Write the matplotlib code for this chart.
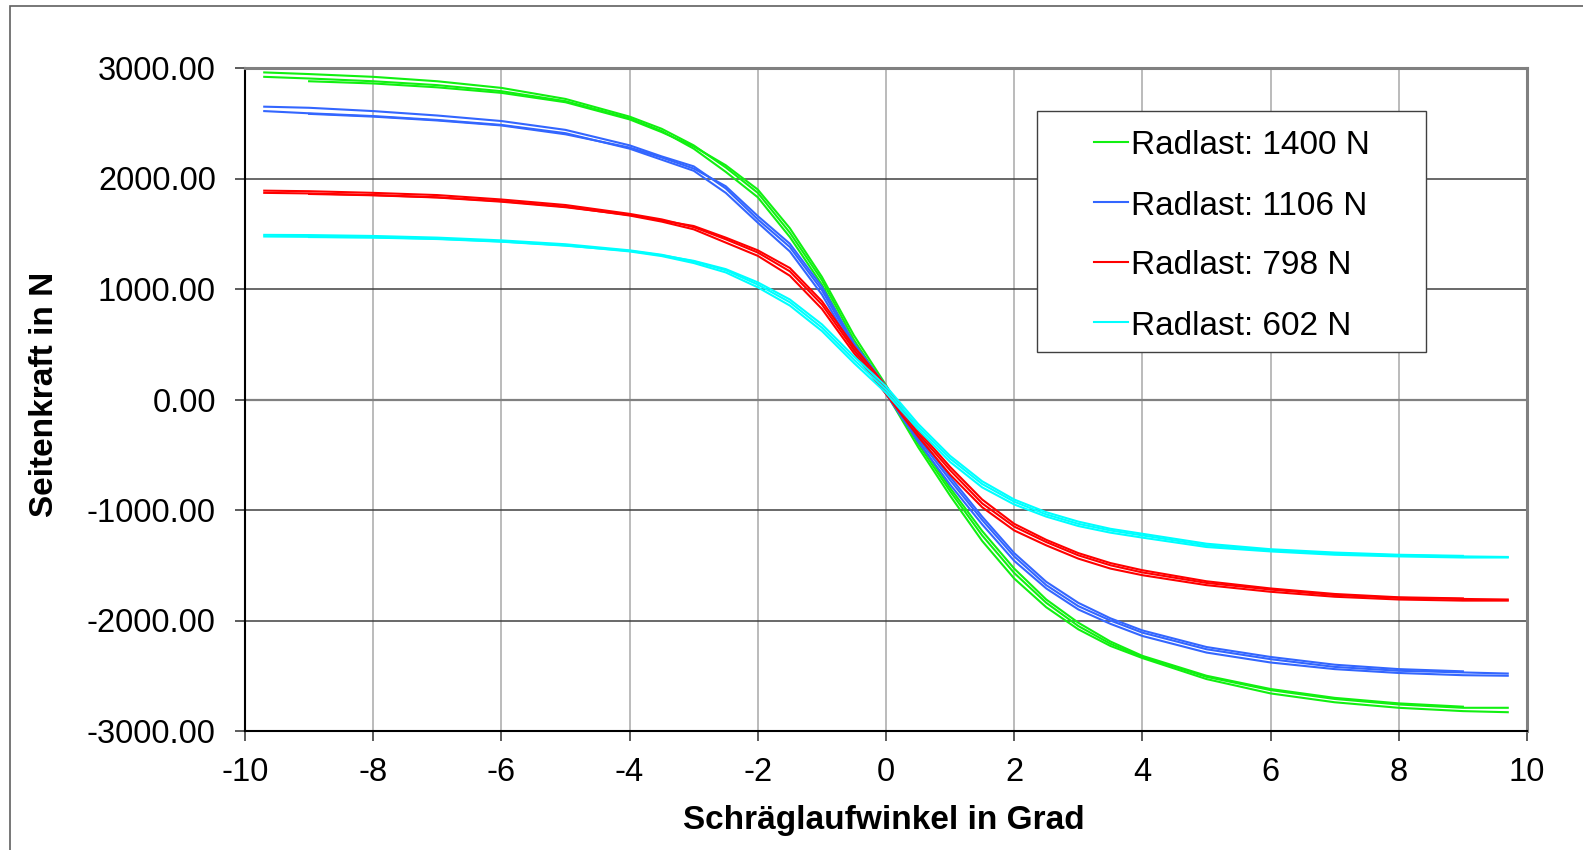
import matplotlib.pyplot as plt
from matplotlib.lines import Line2D
from matplotlib.patches import Rectangle

plt.rcParams["font.family"] = ["Liberation Sans", "DejaVu Sans"]
plt.rcParams["axes.unicode_minus"] = False

# slip angle grid (deg) shared by all traces
angle = [-9.7, -9, -8, -7, -6, -5, -4, -3.5, -3, -2.5, -2, -1.5, -1, -0.5, 0,
         0.5, 1, 1.5, 2, 2.5, 3, 3.5, 4, 5, 6, 7, 8, 9, 9.7]

labels = ["Radlast: 1400 N", "Radlast: 1106 N", "Radlast: 798 N", "Radlast: 602 N"]
colors = ["#11f011", "#3366ff", "#ff0000", "#00ffff"]

# side force (N), three measurement passes per wheel load
f1400_a = [2960, 2945, 2920, 2880, 2820, 2720, 2560, 2450, 2300, 2100, 1870, 1510, 1080, 540, 100,
           -400, -830, -1230, -1570, -1840, -2050, -2210, -2330, -2510, -2630, -2710, -2760, -2790, -2790]
f1400_b = [2920, 2905, 2880, 2845, 2790, 2700, 2545, 2430, 2270, 2060, 1830, 1470, 1040, 500, 60,
           -430, -870, -1280, -1620, -1880, -2080, -2230, -2340, -2530, -2660, -2740, -2790, -2820, -2830]
f1400_c = [2890, 2880, 2860, 2825, 2775, 2690, 2535, 2420, 2290, 2120, 1900, 1550, 1110, 580, 130,
           -370, -800, -1190, -1530, -1810, -2020, -2190, -2320, -2500, -2620, -2700, -2750, -2780, -2780]

f1106_a = [2650, 2640, 2610, 2570, 2520, 2440, 2300, 2200, 2110, 1910, 1630, 1380, 990, 480, 90,
           -350, -730, -1090, -1420, -1680, -1870, -2000, -2110, -2260, -2350, -2420, -2455, -2470, -2480]
f1106_b = [2610, 2590, 2565, 2530, 2485, 2410, 2270, 2170, 2070, 1870, 1600, 1340, 950, 450, 50,
           -380, -770, -1130, -1460, -1710, -1900, -2030, -2140, -2290, -2380, -2440, -2475, -2495, -2500]
f1106_c = [2590, 2585, 2560, 2525, 2480, 2400, 2280, 2190, 2090, 1930, 1660, 1410, 1020, 510, 120,
           -320, -700, -1060, -1390, -1650, -1840, -1980, -2090, -2240, -2330, -2400, -2440, -2460, -2465]

f798_a = [1890, 1885, 1870, 1850, 1810, 1760, 1680, 1630, 1560, 1450, 1330, 1160, 860, 450, 90,
          -305, -640, -940, -1150, -1290, -1410, -1500, -1565, -1660, -1720, -1770, -1795, -1805, -1810]
f798_b = [1870, 1865, 1850, 1830, 1795, 1745, 1665, 1610, 1540, 1420, 1300, 1120, 820, 420, 50,
          -335, -680, -975, -1185, -1320, -1440, -1530, -1590, -1680, -1740, -1785, -1810, -1820, -1820]
f798_c = [1860, 1860, 1848, 1828, 1790, 1740, 1670, 1620, 1570, 1465, 1350, 1190, 890, 480, 120,
          -280, -610, -905, -1125, -1270, -1390, -1480, -1545, -1645, -1710, -1760, -1790, -1800, -1805]

f602_a = [1490, 1488, 1480, 1465, 1440, 1405, 1350, 1310, 1250, 1170, 1040, 880, 650, 360, 90,
          -245, -535, -765, -925, -1040, -1125, -1185, -1230, -1320, -1365, -1395, -1410, -1420, -1425]
f602_b = [1475, 1472, 1468, 1455, 1430, 1395, 1340, 1298, 1235, 1150, 1015, 850, 620, 330, 60,
          -270, -565, -795, -950, -1060, -1145, -1205, -1250, -1335, -1375, -1405, -1420, -1430, -1430]
f602_c = [1470, 1470, 1465, 1452, 1428, 1392, 1345, 1305, 1255, 1180, 1060, 905, 680, 390, 120,
          -220, -510, -740, -905, -1020, -1105, -1170, -1215, -1305, -1355, -1385, -1405, -1415, -1420]

series = [
    (f1400_a, f1400_b, f1400_c),
    (f1106_a, f1106_b, f1106_c),
    (f798_a, f798_b, f798_c),
    (f602_a, f602_b, f602_c),
]

x_ticks = list(range(-10, 11, 2))
y_ticks = list(range(-3000, 3001, 1000))

W, H = 1583, 850
fig = plt.figure(figsize=(15.83, 8.5), dpi=100)
fig.patches.append(Rectangle((10 / W, -0.1), 1.2, 1.1 - 6 / H,
                             transform=fig.transFigure, fill=False,
                             edgecolor="#606060", linewidth=1.2))
ax = fig.add_axes([245 / W, 1 - 731 / H, (1527 - 245) / W, (731 - 68) / H])

for (pa, pb, pc), col in zip(series, colors):
    ax.plot(angle, pa, color=col, linewidth=1.5)
    ax.plot(angle, pb, color=col, linewidth=1.5)
    ax.plot(angle[1:-1], pc[1:-1], color=col, linewidth=1.5)

ax.set_xlim(-10, 10)
ax.set_ylim(-3000, 3000)
ax.set_xticks(x_ticks)
ax.set_yticks(y_ticks)
ax.set_yticklabels([f"{v:.2f}" for v in y_ticks])
ax.tick_params(axis="both", direction="out", length=7, width=1.2, color="#404040",
               labelsize=23.5)
ax.tick_params(axis="y", pad=14)
ax.tick_params(axis="x", pad=12)

ax.xaxis.grid(True, color="#a8a8a8", linewidth=1.1)
ax.yaxis.grid(True, color="#404040", linewidth=1.1)
ax.set_axisbelow(True)
ax.axhline(0, color="#808080", linewidth=1.6, zorder=1)

ax.spines["left"].set_color("black")
ax.spines["bottom"].set_color("black")
ax.spines["left"].set_linewidth(1.5)
ax.spines["bottom"].set_linewidth(1.5)
for s in ("top", "right"):
    ax.spines[s].set_color("#808080")
    ax.spines[s].set_linewidth(2.2)

fig.text(884 / W, 1 - 821 / H, "Schräglaufwinkel in Grad", ha="center", va="center",
         fontsize=24, fontweight="bold")
fig.text(45 / W, 1 - 394 / H, "Seitenkraft in N", ha="center", va="center",
         rotation=90, fontsize=24, fontweight="bold")

# legend box drawn in figure pixels
fig.patches.append(Rectangle((1037 / W, 1 - 352 / H), (1426 - 1037) / W, (352 - 111) / H,
                             transform=fig.transFigure, facecolor="white",
                             edgecolor="#404040", linewidth=1.0, zorder=5))
for i, (lab, col) in enumerate(zip(labels, colors)):
    yc = 1 - (142 + 60 * i) / H
    fig.lines.append(Line2D([1094 / W, 1128 / W], [yc, yc], transform=fig.transFigure,
                            color=col, linewidth=1.5, zorder=6))
    fig.text(1131 / W, yc - 4 / H, lab, ha="left", va="center", fontsize=24, zorder=6)

fig.savefig("out.png", dpi=100)
